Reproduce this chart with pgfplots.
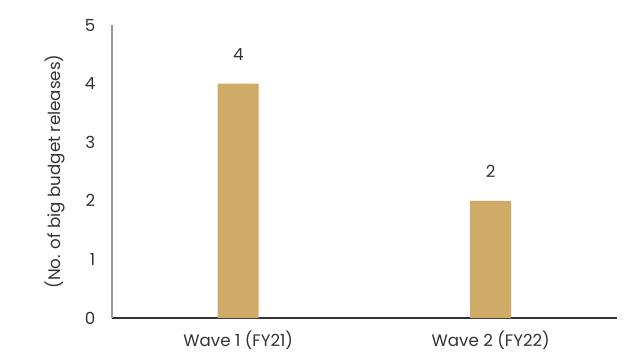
\documentclass[border=0pt]{standalone}
\usepackage{pgfplots}
\pgfplotsset{compat=1.18}
\usepackage{fontspec}
\setmainfont{Poppins}
\definecolor{bar}{HTML}{CFAB67}
\definecolor{txt}{HTML}{333333}
\begin{document}
\begin{tikzpicture}[x=1pt,y=1pt]
\useasboundingbox (-84,-27) rectangle (390.75,238.5);
\begin{axis}[
  scale only axis,
  width=378.75pt, height=219.75pt,
  xmin=-0.5, xmax=1.5, ymin=0, ymax=5,
  xtick={0,1}, xticklabels={Wave 1 (FY21), Wave 2 (FY22)},
  ytick={0,1,2,3,4,5},
  axis x line*=bottom, axis y line*=left,
  x axis line style={draw=txt, line width=0.8pt, -},
  y axis line style={draw=gray!80, line width=0.8pt, -},
  major tick length=0pt,
  tick style={draw=none},
  font=\fontsize{12.5}{14}\selectfont,
  every tick label/.append style={text=txt},
  /pgf/number format/assume math mode=true,
  xticklabel style={yshift=-6pt},
  yticklabel style={xshift=-9pt},
  ylabel={(No. of big budget releases)},
  ylabel style={text=txt, at={(axis description cs:-0.113,0.5)}, anchor=center},
  nodes near coords,
  nodes near coords style={text=txt, yshift=14pt, font=\fontsize{12.5}{14}\selectfont},
  clip=false,
]
\addplot[ybar, bar width=30.75pt, fill=bar, draw=none] coordinates {(0,4) (1,2)};
\end{axis}
\end{tikzpicture}
\end{document}
